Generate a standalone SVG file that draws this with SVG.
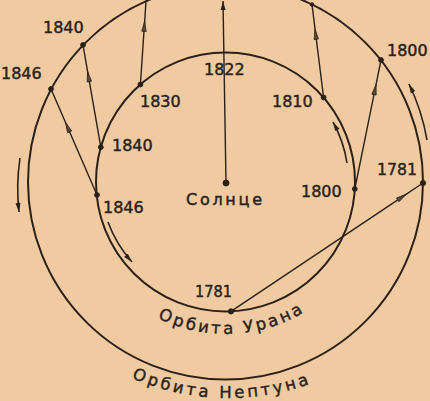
<svg xmlns="http://www.w3.org/2000/svg" width="430" height="401" viewBox="0 0 430 401">
<style>
.orbit{fill:none;stroke:#2b2119;stroke-width:2}
.ray{fill:none;stroke:#2b2119;stroke-width:1.4;marker-mid:url(#mid)}
.motion{fill:none;stroke:#2b2119;stroke-width:1.6;marker-end:url(#end)}
.dot{fill:#2b2119;stroke:#2b2119;stroke-width:1}
.lbl{font-family:"DejaVu Sans","Liberation Sans",sans-serif;font-size:16px;fill:#2a221c;stroke:#2a221c;stroke-width:0.45}
.arc{font-family:"DejaVu Sans","Liberation Sans",sans-serif;font-size:16.5px;fill:#2a221c;stroke:#2a221c;stroke-width:0.4}
</style>
<defs>
<marker id="mid" viewBox="-6 -3 12 6" markerWidth="12" markerHeight="6" markerUnits="userSpaceOnUse" orient="auto" refX="0" refY="0">
<path d="M5,0 L-5,-2.2 L-5,2.2 Z" fill="#5a4a3a" stroke="#2b2119" stroke-width="0.8"/>
</marker>
<marker id="end" viewBox="-10 -3 11 6" markerWidth="11" markerHeight="6" markerUnits="userSpaceOnUse" orient="auto" refX="0" refY="0">
<path d="M0,0 L-9,-2.5 L-9,2.5 Z" fill="#2b2119"/>
</marker>
<path id="uranPath" d="M128.44,298.67 A151,151 0 0 0 322.56,298.67"/>
<path id="neptPath" d="M89.77,354.42 A241,241 0 0 0 366.23,354.42"/>
</defs>
<rect width="430" height="401" fill="#f0cba2"/>

<g id="orbit-neptune">
<circle class="orbit" cx="225.5" cy="182" r="197.5"/>
<text class="arc"><textPath href="#neptPath" startOffset="48" textLength="182" lengthAdjust="spacing">Орбита Нептуна</textPath></text>
</g>
<g id="orbit-uranus">
<circle class="orbit" cx="225.5" cy="182" r="129.5"/>
<text class="arc"><textPath href="#uranPath" startOffset="35" textLength="152" lengthAdjust="spacing">Орбита Урана</textPath></text>
</g>

<g id="connectors">
<path class="ray" d="M140.4,84.5 L144.3,26.4 L146,1.5"/>
<path class="ray" d="M100.8,147.2 L88.5,76.7 L83,45"/>
<path class="ray" d="M97,195 L67.6,127.2 L51,89"/>
<path class="ray" d="M323.6,97.5 L315.7,34.3 L312,4.5"/>
<path class="ray" d="M354.8,189 L375,89.7 L381,60"/>
<path class="ray" d="M231,311.4 L401.9,197.1 L423,183"/>
<path class="ray" style="marker-end:url(#end)" d="M226,183 L223,1"/>
<path class="motion" d="M347,163 A123,123 0 0 0 333,122"/>
<path class="motion" d="M108,222 A123.5,123.5 0 0 0 132,262"/>
<path class="motion" d="M20,158 A207.5,207.5 0 0 0 19,212"/>
<path class="motion" d="M427,140 A207,207 0 0 0 409,84"/>
</g>

<g id="sun">
<circle class="dot" cx="226" cy="183" r="3"/>
<text class="lbl" x="186" y="205" textLength="76" lengthAdjust="spacing">Солнце</text>
</g>

<g id="uranus-positions">
<circle class="dot" cx="140.4" cy="84.5" r="2.4"/>
<circle class="dot" cx="100.8" cy="147.2" r="2.4"/>
<circle class="dot" cx="97" cy="195" r="2.4"/>
<circle class="dot" cx="323.6" cy="97.5" r="2.4"/>
<circle class="dot" cx="354.8" cy="189" r="2.4"/>
<circle class="dot" cx="231" cy="311.4" r="2.6"/>
<text class="lbl" x="204" y="75">1822</text>
<text class="lbl" x="140" y="107">1830</text>
<text class="lbl" x="112" y="151">1840</text>
<text class="lbl" x="103" y="213">1846</text>
<text class="lbl" x="272" y="107">1810</text>
<text class="lbl" x="301" y="197">1800</text>
<text class="lbl" x="195" y="297" textLength="37" lengthAdjust="spacingAndGlyphs">1781</text>
</g>

<g id="neptune-positions">
<circle class="dot" cx="83" cy="45" r="2.4"/>
<circle class="dot" cx="51" cy="89" r="2.4"/>
<circle class="dot" cx="381" cy="60" r="2.4"/>
<circle class="dot" cx="423" cy="183" r="2.6"/>
<circle class="dot" cx="312" cy="4.5" r="1.8"/>
<text class="lbl" x="43" y="33">1840</text>
<text class="lbl" x="1" y="79">1846</text>
<text class="lbl" x="387" y="56">1800</text>
<text class="lbl" x="377" y="175" textLength="40" lengthAdjust="spacingAndGlyphs">1781</text>
</g>
</svg>
